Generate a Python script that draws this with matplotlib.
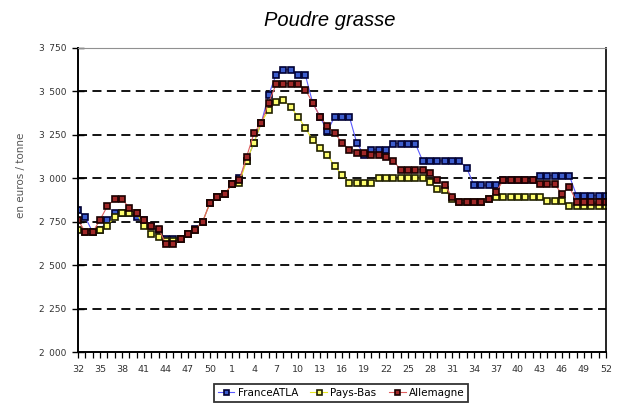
import matplotlib
matplotlib.use("Agg")
import matplotlib.pyplot as plt

# semaines 32..52 puis 1..52
weeks = list(range(32, 53)) + list(range(1, 53))

france_atla = [2815, 2775, 2690, 2700, 2760, 2800, 2800, 2800, 2775, 2760,
               2725, 2700, 2650, 2650, 2650, 2680, 2710, 2750, 2860, 2895,
               2910, 2965, 3000, 3100, 3205, 3320, 3480, 3595, 3625, 3625,
               3595, 3595, 3435, 3355, 3270, 3355, 3355, 3355, 3205, 3135,
               3165, 3165, 3165, 3200, 3200, 3200, 3200, 3100, 3100, 3100,
               3100, 3100, 3100, 3060, 2960, 2960, 2960, 2960, 2990, 2990,
               2990, 2990, 2990, 3015, 3015, 3015, 3015, 3015, 2900, 2900,
               2900, 2900, 2900]

pays_bas = [2705, 2690, 2690, 2700, 2725, 2780, 2800, 2800, 2800, 2725,
            2680, 2660, 2640, 2640, 2650, 2680, 2705, 2750, 2860, 2895,
            2910, 2965, 2975, 3100, 3205, 3320, 3395, 3440, 3450, 3410,
            3355, 3290, 3220, 3175, 3135, 3070, 3020, 2975, 2975, 2975,
            2975, 3000, 3000, 3000, 3000, 3000, 3000, 3000, 2980, 2940,
            2935, 2880, 2865, 2865, 2865, 2865, 2880, 2895, 2895, 2895,
            2895, 2895, 2895, 2895, 2870, 2870, 2870, 2840, 2840, 2840,
            2840, 2840, 2840]

allemagne = [2760, 2690, 2690, 2760, 2840, 2880, 2880, 2830, 2800, 2760,
             2725, 2710, 2620, 2620, 2650, 2680, 2705, 2750, 2860, 2895,
             2910, 2965, 2990, 3125, 3260, 3320, 3435, 3540, 3545, 3545,
             3545, 3510, 3435, 3355, 3300, 3260, 3205, 3165, 3145, 3145,
             3135, 3135, 3125, 3100, 3050, 3050, 3050, 3050, 3030, 2990,
             2960, 2895, 2865, 2865, 2865, 2865, 2880, 2920, 2990, 2990,
             2990, 2990, 2990, 2965, 2965, 2965, 2910, 2950, 2865, 2865,
             2865, 2865, 2865]

y_ticks = [2000, 2250, 2500, 2750, 3000, 3250, 3500, 3750]

plt.rcParams['font.family'] = ['DejaVu Sans']

fig = plt.figure(figsize=(6.21, 4.09), dpi=100)
ax = fig.add_axes([78 / 621, 1 - 352 / 409, 528 / 621, 304 / 409])

x = list(range(len(weeks)))

ax.plot(x, france_atla, color='#5a5aff', lw=0.8, marker='s', markersize=4,
        markerfacecolor='#3c5ccc', markeredgecolor='#000033', markeredgewidth=1.2,
        label='FranceATLA')
ax.plot(x, pays_bas, color='#e8e820', lw=0.8, marker='s', markersize=4,
        markerfacecolor='#ffff70', markeredgecolor='#202000', markeredgewidth=1.2,
        label='Pays-Bas')
ax.plot(x, allemagne, color='#e06060', lw=0.8, marker='s', markersize=4,
        markerfacecolor='#a02828', markeredgecolor='#1a0000', markeredgewidth=1.2,
        label='Allemagne')

ax.set_xlim(0, len(weeks) - 1)
ax.set_ylim(2000, 3750)

# grille horizontale en tirets
for v in y_ticks[1:-1]:
    ax.axhline(v, color='black', lw=1.3, ls=(0, (5, 3)), zorder=0.5)

ax.set_yticks(y_ticks)
ax.set_yticklabels([f"{v // 1000}\u2002{v % 1000:03d}" for v in y_ticks])
ax.set_xticks(x)
ax.set_xticklabels([str(w) if i % 3 == 0 else '' for i, w in enumerate(weeks)])
ax.tick_params(axis='y', direction='inout', length=9, width=1, labelsize=6.5,
               labelcolor='#333333', pad=4)
ax.tick_params(axis='x', direction='out', length=4, width=0.9, labelsize=6.8,
               labelcolor='#333333', pad=5)

ax.spines['left'].set_linewidth(1.4)
ax.spines['bottom'].set_linewidth(1.4)
ax.spines['right'].set_linewidth(1.2)
ax.spines['top'].set_color('#909090')
ax.spines['top'].set_linewidth(0.8)

fig.text(21 / 621, 1 - 175 / 409, 'en euros / tonne', rotation=90,
         ha='center', va='center', fontsize=7.5, color='#555555')
fig.text(330 / 621, 1 - 21 / 409, 'Poudre grasse', ha='center', va='center',
         fontsize=14.5, style='italic', family='Liberation Sans')

leg = fig.legend(loc='center', bbox_to_anchor=(341 / 621, 1 - 393 / 409), ncol=3,
                 fontsize=7.5, frameon=True, fancybox=False, edgecolor='black',
                 handlelength=1.6, handletextpad=0.3, columnspacing=1.2,
                 borderpad=0.35, markerscale=0.9)
leg.get_frame().set_linewidth(1.3)

fig.savefig('out.png', dpi=100)
